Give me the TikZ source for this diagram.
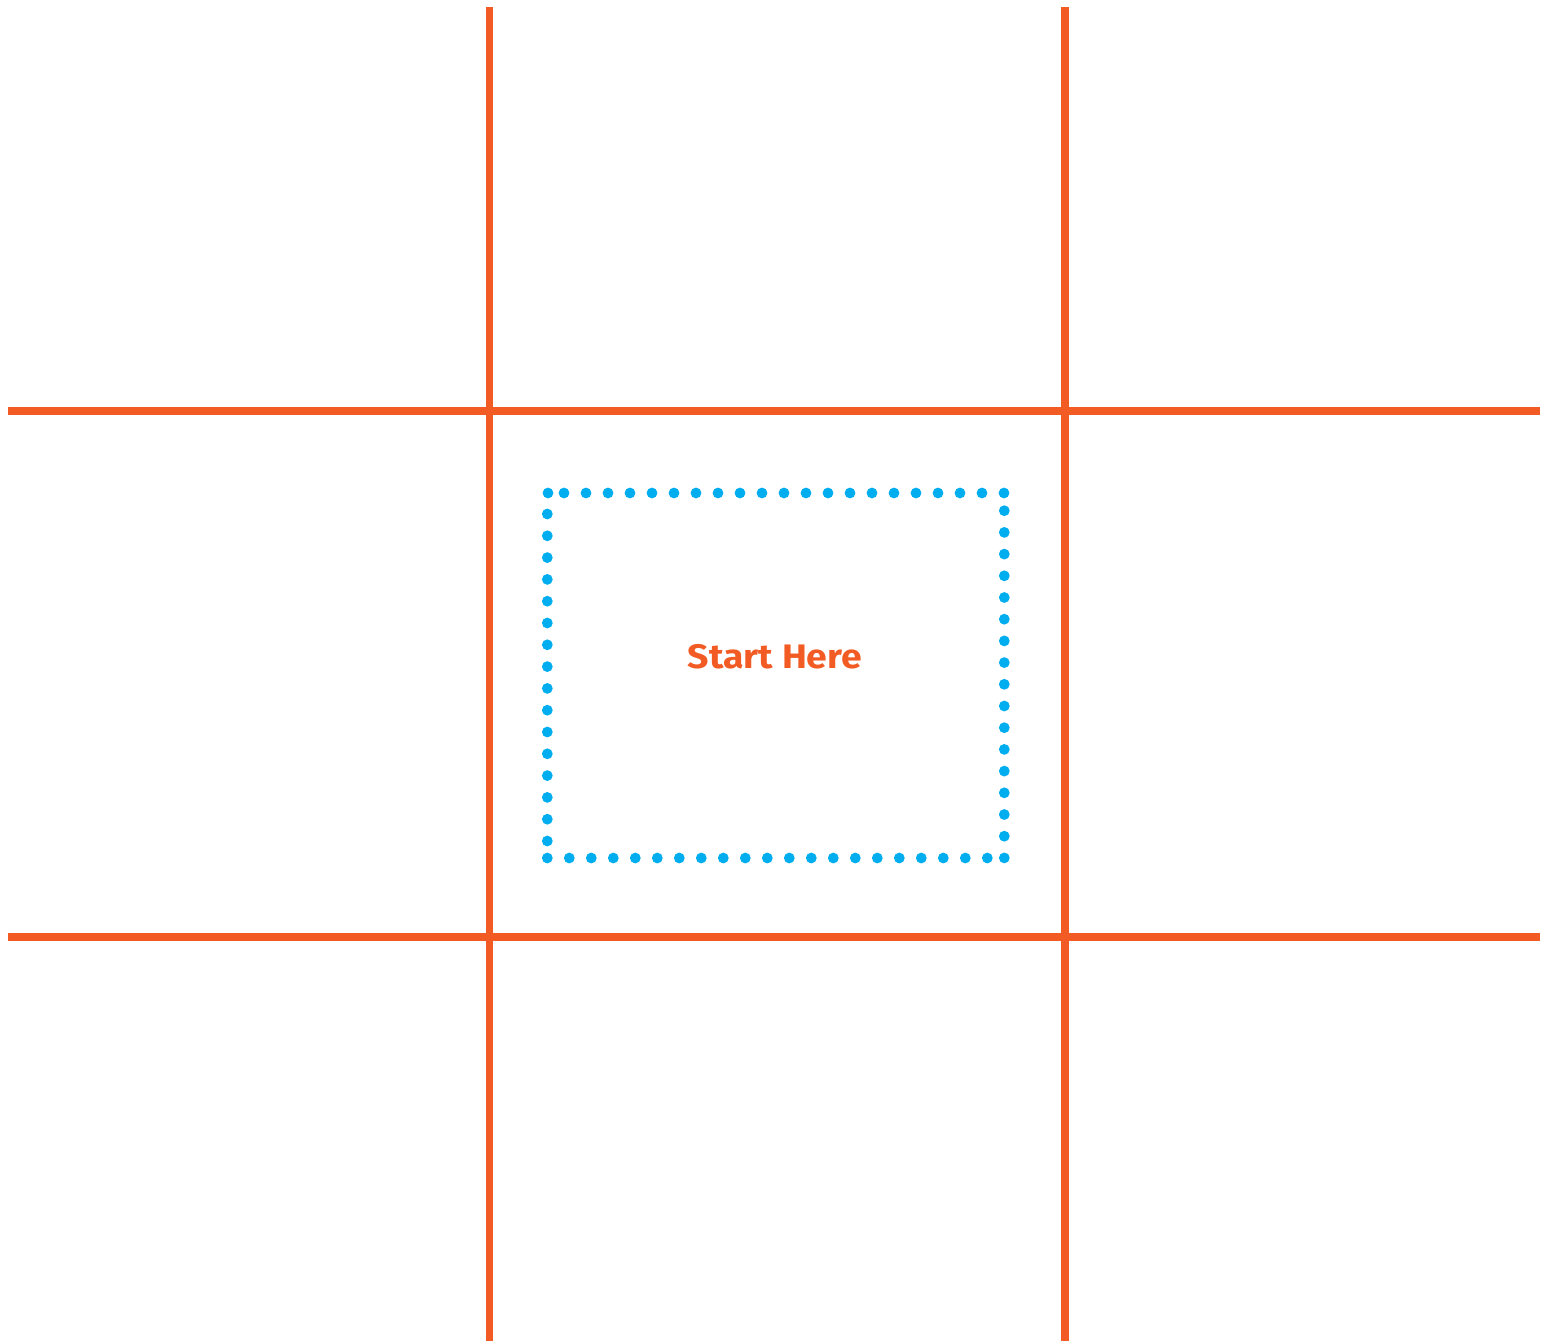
\documentclass[tikz,border=0pt]{standalone}
\usepackage{fontspec}
\setmainfont{Fira Sans}
\definecolor{gridorange}{HTML}{F25C24}
\definecolor{dotblue}{HTML}{00AEEF}
\begin{document}
\begin{tikzpicture}[x=1pt,y=-1pt,
  gridline/.style={draw=gridorange,line width=7.5pt},
  bluedot/.style={fill=dotblue},
  label/.style={text=gridorange,font=\bfseries\fontsize{34}{34}\selectfont,inner sep=0pt,xscale=1.1,transform shape}]
\useasboundingbox (0,0) rectangle (1551,1341);
% grid
\coordinate (v1t) at (489.5,7);   \coordinate (v1b) at (489.5,1341);
\coordinate (v2t) at (1065,7);    \coordinate (v2b) at (1065,1341);
\coordinate (h1l) at (8,410.8);   \coordinate (h1r) at (1540,410.8);
\coordinate (h2l) at (8,937);     \coordinate (h2r) at (1540,937);
\draw[gridline] (v1t) -- (v1b);
\draw[gridline] (v2t) -- (v2b);
\draw[gridline] (h1l) -- (h1r);
\draw[gridline] (h2l) -- (h2r);
% dotted box
\fill[bluedot] (548,493) circle (5.4pt);
\foreach \k in {0,...,20} \fill[bluedot] (564+22*\k,493) circle (5.4pt);
\foreach \k in {0,...,16} \fill[bluedot] (1004.3,510.7+21.7*\k) circle (5.4pt);
\foreach \k in {0,...,20} \fill[bluedot] (987.3-22*\k,858) circle (5.4pt);
\foreach \k in {0,...,15} \fill[bluedot] (547.3,841-21.8*\k) circle (5.4pt);
% label
\node[label] (start) at (775,657) {Start Here};
\end{tikzpicture}
\end{document}
